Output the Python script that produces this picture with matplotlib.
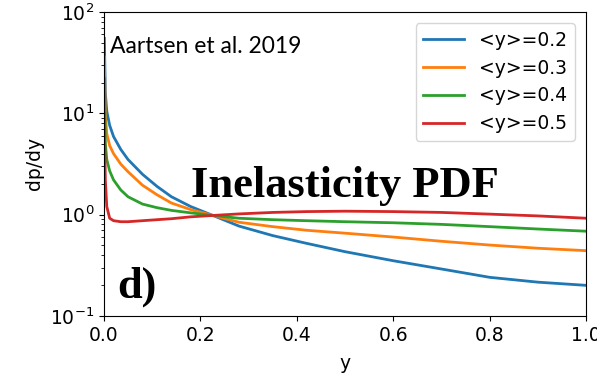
import matplotlib
matplotlib.use('Agg')
import matplotlib.pyplot as plt

# inelasticity grid (y) and dp/dy values
y_grid = [0.001, 0.003, 0.006, 0.012, 0.02, 0.035, 0.05, 0.08, 0.11, 0.14, 0.18,
          0.226, 0.28, 0.35, 0.42, 0.5, 0.6, 0.7, 0.8, 0.9, 1.0]
pdf_02 = [55, 16, 10.5, 7.6, 5.9, 4.4, 3.5, 2.5, 1.9, 1.5, 1.2,
          0.98, 0.77, 0.62, 0.52, 0.43, 0.35, 0.29, 0.24, 0.215, 0.20]
pdf_03 = [36, 9.5, 6.3, 4.8, 4.0, 3.15, 2.65, 1.95, 1.57, 1.3, 1.12,
          0.98, 0.84, 0.76, 0.70, 0.655, 0.60, 0.545, 0.50, 0.465, 0.44]
pdf_04 = [22, 5.0, 3.5, 2.7, 2.2, 1.75, 1.5, 1.27, 1.17, 1.1, 1.04,
          0.98, 0.92, 0.89, 0.87, 0.85, 0.83, 0.80, 0.76, 0.72, 0.685]
pdf_05 = [10, 2.2, 1.2, 0.92, 0.87, 0.85, 0.85, 0.87, 0.89, 0.91, 0.95,
          0.98, 1.015, 1.05, 1.07, 1.08, 1.07, 1.05, 1.01, 0.97, 0.92]
labels = ['<y>=0.2', '<y>=0.3', '<y>=0.4', '<y>=0.5']

plt.rcParams['font.size'] = 13.5

fig = plt.figure(figsize=(5.97, 3.76), dpi=100)
ax = fig.add_axes([0.174, 0.16, 0.808, 0.808])

for vals, lab in zip([pdf_02, pdf_03, pdf_04, pdf_05], labels):
    ax.plot(y_grid, vals, lw=2, label=lab)

ax.set_yscale('log')
ax.set_xlim(0, 1)
ax.set_ylim(0.1, 100)
ax.set_xlabel('y', labelpad=7)
ax.set_ylabel('dp/dy')
ax.legend(loc='upper right', labelspacing=0.47, handlelength=2.2,
          borderaxespad=0.6)

ax.text(0.013, 0.885, 'Aartsen et al. 2019', transform=ax.transAxes,
        family='Lato', fontsize=16.5, va='center')
ax.text(0.18, 0.39, 'Inelasticity PDF', transform=ax.transAxes,
        family='Liberation Serif', fontweight='bold', fontsize=32)
ax.text(0.028, 0.06, 'd)', transform=ax.transAxes,
        family='Liberation Serif', fontweight='bold', fontsize=32)

fig.savefig('out.png', dpi=100)
